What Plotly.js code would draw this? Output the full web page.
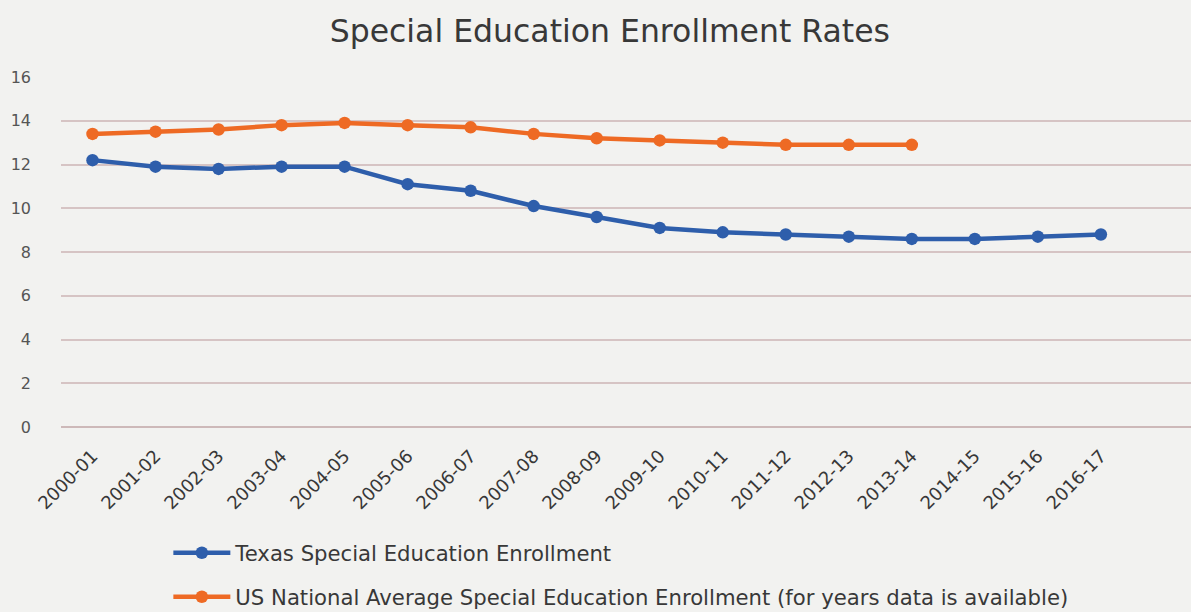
<!DOCTYPE html>
<html>
<head>
<meta charset="utf-8">
<script src="https://cdn.plot.ly/plotly-3.0.1.min.js"></script>
<style>html,body{margin:0;padding:0;background:#f2f2f0;}#chart{width:1191px;height:612px;}</style>
</head>
<body>
<div id="chart"></div>
<script>
const years = ["2000-01","2001-02","2002-03","2003-04","2004-05","2005-06","2006-07","2007-08","2008-09","2009-10","2010-11","2011-12","2012-13","2013-14","2014-15","2015-16","2016-17"];
const texasValues = [12.2,11.9,11.8,11.9,11.9,11.1,10.8,10.1,9.6,9.1,8.9,8.8,8.7,8.6,8.6,8.7,8.8];
const usYears = ["2000-01","2001-02","2002-03","2003-04","2004-05","2005-06","2006-07","2007-08","2008-09","2009-10","2010-11","2011-12","2012-13","2013-14"];
const usValues = [13.4,13.5,13.6,13.8,13.9,13.8,13.7,13.4,13.2,13.1,13.0,12.9,12.9,12.9];
const yTicks = [0,2,4,6,8,10,12,14,16];

const FONT = "'DejaVu Sans', sans-serif";
const blue = "#2E5EAB", orange = "#EE6A24";
const textColor = "#383838";

const traces = [
  {x: years, y: texasValues, type: "scatter", mode: "lines+markers",
   name: "Texas Special Education Enrollment",
   line: {color: blue, width: 4.5}, marker: {color: blue, size: 12.5}, legend: "legend"},
  {x: usYears, y: usValues, type: "scatter", mode: "lines+markers",
   name: "US National Average Special Education Enrollment (for years data is available)",
   line: {color: orange, width: 4.5}, marker: {color: orange, size: 12.5}, legend: "legend2"}
];

const legendCommon = {orientation: "h", xref: "paper", yref: "container", xanchor: "left", yanchor: "middle",
  bgcolor: "rgba(0,0,0,0)", font: {family: FONT, size: 21.2, color: textColor}, itemwidth: 57};

const layout = {
  width: 1191, height: 612,
  paper_bgcolor: "#f2f2f0", plot_bgcolor: "#f2f2f0",
  margin: {l: 61, r: 0, t: 77, b: 185},
  title: {text: "Special Education Enrollment Rates", x: 0.512, xanchor: "center", y: 0.95, yanchor: "middle",
          font: {family: FONT, size: 31.5, color: textColor}},
  xaxis: {type: "category", categoryarray: years, range: [-0.5, 17.43], tickangle: -45,
          showgrid: false, zeroline: false, showline: false, ticks: "", ticklabelstandoff: 14,
          tickfont: {family: FONT, size: 18, color: textColor}},
  yaxis: {range: [0, 16], tickvals: yTicks, showgrid: true, gridcolor: "#d6c4c4", gridwidth: 2,
          zeroline: true, zerolinecolor: "#cdb9b9", zerolinewidth: 2, showline: false,
          ticklabelstandoff: 29, tickfont: {family: FONT, size: 16, color: "#555555"}},
  showlegend: true,
  legend: Object.assign({}, legendCommon, {x: 0.095, y: (612 - 553) / 612}),
  legend2: Object.assign({}, legendCommon, {x: 0.095, y: (612 - 597) / 612})
};

Plotly.newPlot("chart", traces, layout, {displayModeBar: false, staticPlot: true});
</script>
</body>
</html>
